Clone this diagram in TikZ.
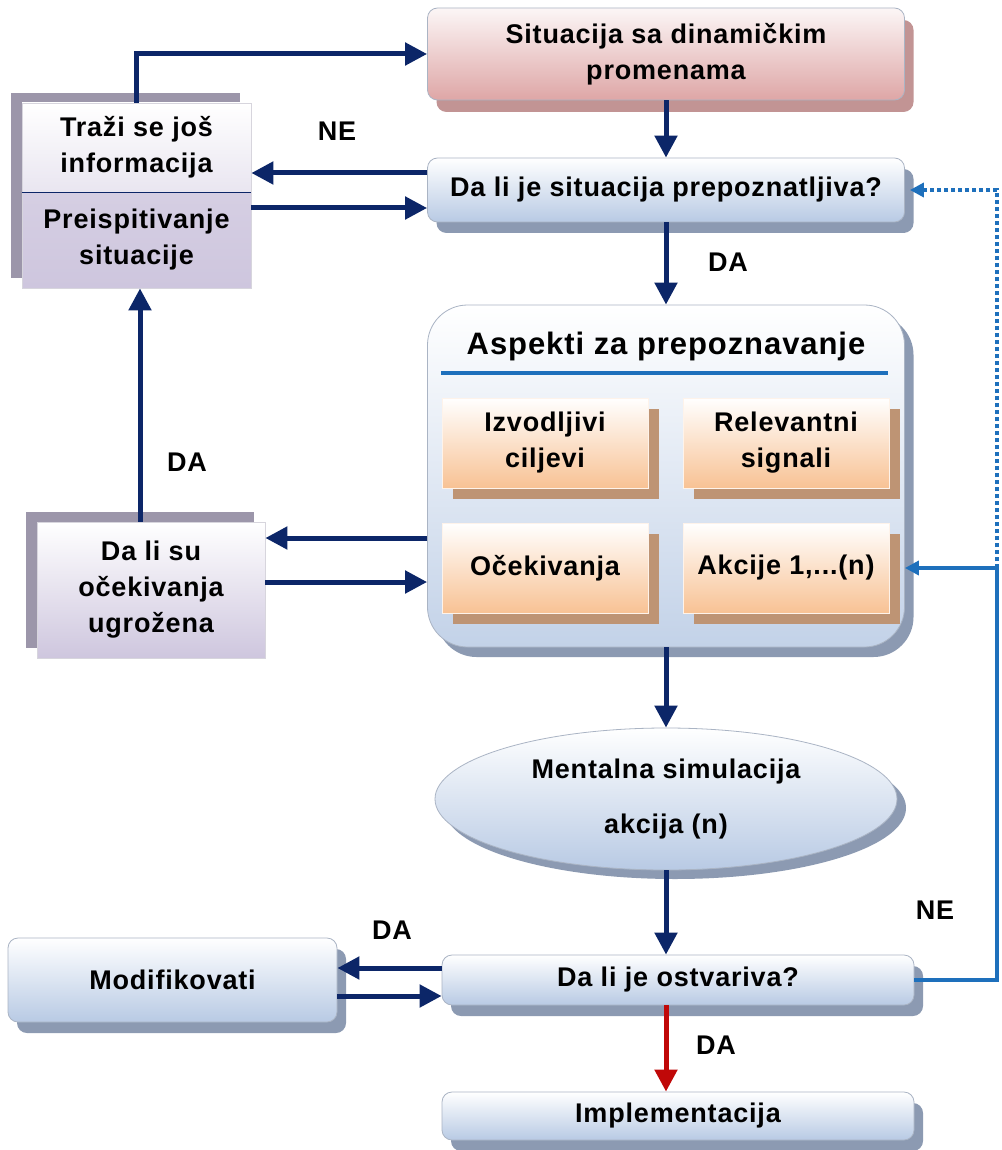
\documentclass[tikz,border=0pt]{standalone}
\usepackage{fontspec}
\setmainfont{Liberation Sans}[LetterSpace=3]
\usetikzlibrary{arrows.meta, shapes.geometric, shadows}

\definecolor{navy}{RGB}{12,38,104}
\definecolor{linkblue}{RGB}{30,112,188}
\definecolor{darkred}{RGB}{192,8,8}
\definecolor{boxblue}{RGB}{184,202,228}
\definecolor{shadeblue}{RGB}{140,154,178}
\definecolor{boxpink}{RGB}{222,166,166}
\definecolor{shadepink}{RGB}{194,148,148}
\definecolor{boxpeach}{RGB}{248,194,148}
\definecolor{shadepeach}{RGB}{190,148,116}
\definecolor{boxlav}{RGB}{206,198,222}
\definecolor{shadelav}{RGB}{156,150,170}
\definecolor{edgegray}{RGB}{170,180,196}

\tikzset{
  base/.style={font=\fontsize{27}{36}\selectfont\bfseries, align=center,
    draw=edgegray, line width=0.8pt, inner sep=0pt},
  bluebox/.style={base, rounded corners=10pt, top color=white, bottom color=boxblue,
    drop shadow={shadow xshift=9pt, shadow yshift=-11pt, fill=shadeblue, opacity=1}},
  pinkbox/.style={base, rounded corners=10pt, top color=white!90!boxpink, bottom color=boxpink,
    drop shadow={shadow xshift=9pt, shadow yshift=-12pt, fill=shadepink, opacity=1}},
  aspbox/.style={base, rounded corners=40pt, top color=white, bottom color=boxblue!85,
    drop shadow={shadow xshift=9pt, shadow yshift=-10pt, fill=shadeblue, opacity=1}},
  peachbox/.style={base, draw=white!80!boxpeach, minimum width=206pt, minimum height=90pt,
    top color=white, bottom color=boxpeach,
    drop shadow={shadow xshift=11pt, shadow yshift=-11pt, fill=shadepeach, opacity=1}},
  lavbox/.style={base, draw=white!60!shadelav,
    drop shadow={shadow xshift=-11pt, shadow yshift=10pt, fill=shadelav, opacity=1}},
  simellipse/.style={base, ellipse, top color=white, bottom color=boxblue,
    drop shadow={shadow xshift=9pt, shadow yshift=-9pt, fill=shadeblue, opacity=1}},
  titletext/.style={font=\fontsize{31}{36}\selectfont\bfseries},
  titleline/.style={linkblue, line width=4pt},
  lbl/.style={font=\fontsize{27}{32}\selectfont\bfseries},
  flow/.style={navy, line width=5pt, -{Triangle[length=22pt,width=22pt]}},
  yesflow/.style={flow, darkred},
  feedback/.style={linkblue, line width=3.5pt},
  feedtip/.style={-{Triangle[length=14pt,width=14pt]}},
  loopback/.style={feedback, dash pattern=on 4pt off 3pt}
}

\begin{document}
\begin{tikzpicture}[x=1pt, y=-1pt]
  \path[use as bounding box, fill=white] (0,0) rectangle (1001,1150);

  % main column
  \node[pinkbox, minimum width=477pt, minimum height=92pt] (sit) at (666,54) {Situacija sa dinamičkim\\promenama};
  \node[bluebox, minimum width=477pt, minimum height=64pt] (prep) at (666,190) {Da li je situacija prepoznatljiva?};
  \node[aspbox, minimum width=477pt, minimum height=342pt] (aspekti) at (666,476) {};
  \node[titletext] (asptitle) at (666,346) {Aspekti za prepoznavanje};
  \draw[titleline] ([xshift=14pt,yshift=-68pt]aspekti.north west) -- ([xshift=-17pt,yshift=-68pt]aspekti.north east);
  \node[peachbox] (ciljevi) at (545,443) {Izvodljivi\\ciljevi};
  \node[peachbox] (signali) at (786,443) {Relevantni\\signali};
  \node[peachbox] (ocek) at (545,568) {Očekivanja};
  \node[peachbox] (akcije) at (786,568) {Akcije 1,...(n)};
  \node[simellipse, minimum width=462pt, minimum height=142pt] (sim) at (666,799) {Mentalna simulacija\\[19pt]akcija (n)};
  \node[bluebox, minimum width=472pt, minimum height=50pt] (ostv) at (678,980) {Da li je ostvariva?};
  \node[bluebox, minimum width=472pt, minimum height=48pt] (impl) at (678,1116) {Implementacija};

  % left column
  \node[lavbox, minimum width=229pt, minimum height=96pt, top color=boxlav!85, bottom color=boxlav] (preisp) at (136.5,240) {Preispitivanje\\situacije};
  \node[lavbox, minimum width=229pt, minimum height=89pt, top color=white, bottom color=boxlav!45] (trazi) at (136.5,147.5) {Traži se još\\informacija};
  \draw[navy, line width=1pt] (trazi.south west) -- (trazi.south east);
  \node[lavbox, minimum width=228pt, minimum height=136pt, top color=white, bottom color=boxlav] (ugroz) at (151,590) {Da li su\\očekivanja\\ugrožena};
  \node[bluebox, minimum width=329pt, minimum height=84pt] (modif) at (172.5,980) {Modifikovati};

  % connectors
  \draw[flow] (sit) -- (prep);
  \draw[flow] (prep.south) -- (prep.south |- aspekti.north);
  \draw[flow] (aspekti.south) -- (sim.north);
  \draw[flow] (sim.south) -- (sim.south |- ostv.north);
  \draw[yesflow] (ostv.south -| sim.south) -- (impl.north -| sim.south);
  \draw[flow] (trazi.north) |- (sit.west);
  \draw[flow] ([yshift=17pt]prep.west) -- ([yshift=17pt]prep.west -| trazi.east);
  \draw[flow] ([yshift=-18pt]prep.west -| preisp.east) -- ([yshift=-18pt]prep.west);
  \draw[flow] ([xshift=-11pt]ugroz.north) -- ([xshift=-11pt]ugroz.north |- preisp.south);
  \draw[flow] ([yshift=52pt]ugroz.east -| aspekti.west) -- ([yshift=52pt]ugroz.east);
  \draw[flow] ([yshift=8pt]ugroz.east) -- ([yshift=8pt]ugroz.east -| aspekti.west);
  \draw[flow] ([yshift=12pt]ostv.west) -- ([yshift=12pt]ostv.west -| modif.east);
  \draw[flow] ([yshift=-16pt]ostv.west -| modif.east) -- ([yshift=-16pt]ostv.west);

  % feedback loop on the right
  \coordinate (rbend) at (997,980);
  \draw[feedback] (ostv.east) -- (rbend) -- (akcije.east -| rbend);
  \draw[feedback, feedtip] (akcije.east -| rbend) -- (akcije.east -| aspekti.east);
  \draw[loopback, feedtip] (akcije.east -| rbend) -- (prep.east -| rbend) -- ([xshift=5pt]prep.east);

  % labels
  \node[lbl] (ne1) at (337,131) {NE};
  \node[lbl] (da1) at (728,262) {DA};
  \node[lbl] (da2) at (187,462) {DA};
  \node[lbl] (da3) at (392,930) {DA};
  \node[lbl] (ne2) at (935,910) {NE};
  \node[lbl] (da4) at (716,1045) {DA};
\end{tikzpicture}
\end{document}
